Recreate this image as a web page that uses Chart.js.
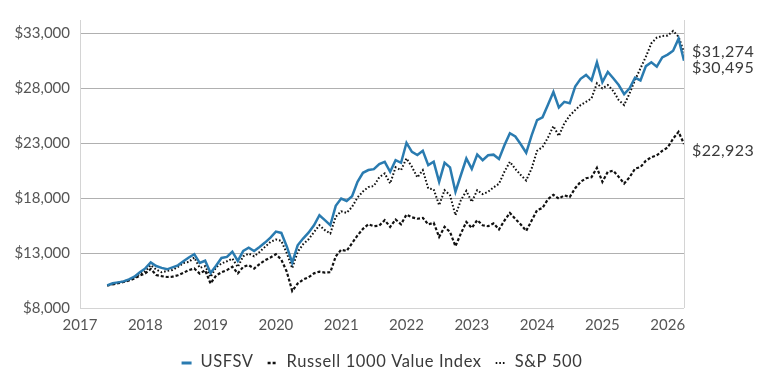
<!DOCTYPE html>
<html><head><meta charset="utf-8">
<script src="https://cdn.jsdelivr.net/npm/chart.js@4.4.1/dist/chart.umd.min.js"></script>
<style>html,body{margin:0;padding:0;background:#fff;}</style>
</head><body>
<canvas id="c" width="764" height="382"></canvas>
<script>
// Monthly month-end values, first point = May 2017
const startYear = 2017, startMonth = 5;
const seriesNames = ['USFSV', 'Russell 1000 Value Index', 'S&P 500'];
const usfsv = [
 10050,10250,10330,10420,10600,10850,11250,11600,12150,11820,
 11650,11520,11700,11880,12250,12600,12900,12100,12300,11190,
 11850,12550,12650,13120,12280,13200,13480,13180,13550,13950,
 14400,14950,14830,13600,12130,13700,14320,14850,15530,16440,
 15990,15530,17290,17960,17740,18170,19480,20300,20550,20630,
 21100,21300,20390,21450,21210,23030,22210,21910,22300,21000,
 21300,19480,21210,20790,18570,20100,21600,20650,21970,21450,
 21900,21950,21550,22800,23900,23600,22900,22120,23700,25100,
 25350,26500,27650,26250,26750,26620,28150,28850,29200,28700,
 30350,28550,29480,28900,28280,27450,27980,28950,28700,30000,
 30350,29950,30800,31050,31400,32500,30495];
const russell = [
 10050,10150,10250,10370,10500,10680,10950,11150,11550,11000,
 10900,10820,10850,10980,11200,11450,11590,11130,11430,10220,
 10950,11250,11450,11750,11150,11750,11900,11590,12000,12340,
 12600,12890,12400,11300,9550,10220,10590,10800,11150,11300,
 11220,11250,12700,13300,13190,13900,14600,15200,15620,15440,
 15500,15990,15380,16050,15620,16500,16250,16120,16200,15600,
 15750,14470,15380,14920,13620,14780,15830,15290,15990,15530,
 15440,15690,15140,15950,16650,16100,15600,15010,15950,16900,
 17100,17900,18300,17950,18250,18100,18900,19480,19800,19900,
 20750,19480,20390,20480,19930,19330,19900,20680,20820,21400,
 21720,21880,22300,22600,23400,24030,22923];
const sp500 = [
 10050,10200,10300,10400,10550,10800,11100,11350,11900,11500,
 11250,11370,11450,11730,12100,12190,12590,11650,11800,10820,
 11700,12050,12250,12500,11730,12710,12950,12710,13100,13560,
 14010,14230,14100,13000,11620,13100,13800,14250,14900,15530,
 15080,14780,16300,16800,16650,17200,18050,18600,19000,19100,
 19900,20240,19330,20800,20540,21610,20840,19880,20540,18870,
 18800,17350,18720,18260,16440,17810,18650,17650,18720,18360,
 18570,18970,19300,20400,21300,20650,20100,19600,20700,22300,
 22650,23500,24550,23650,24790,25500,26000,26460,26760,27070,
 28440,27980,28280,27740,26920,26460,27530,28740,29800,30860,
 32080,32590,32750,32780,33200,32680,31274];
const yTicks = [8000, 13000, 18000, 23000, 28000, 33000];
const xTicks = [2017, 2018, 2019, 2020, 2021, 2022, 2023, 2024, 2025, 2026];
const endLabels = [
 {text: '$31,274', value: 31274},
 {text: '$30,495', value: 30495},
 {text: '$22,923', value: 22923}];

const monthPos = usfsv.map((_, i) => startYear + (startMonth + i) / 12);
const toXY = arr => arr.map((v, i) => ({x: monthPos[i], y: v}));

const FONT = 'Lato, "Open Sans", sans-serif';
const styles = [
  {color: '#2a7bb0', width: 2.5, dash: []},
  {color: '#111111', width: 2.2, dash: [3, 2]},
  {color: '#111111', width: 2, dash: [1.6, 2]}
];

const framePlugin = {
  id: 'frame',
  beforeDatasetsDraw(chart) {
    const {ctx, chartArea: a} = chart;
    ctx.save();
    ctx.strokeStyle = '#d4d4d4';
    ctx.lineWidth = 1;
    ctx.beginPath();
    ctx.moveTo(Math.round(a.left) + 0.5, a.top);
    ctx.lineTo(Math.round(a.left) + 0.5, a.bottom);
    ctx.moveTo(Math.round(a.right) + 0.5, a.top);
    ctx.lineTo(Math.round(a.right) + 0.5, a.bottom);
    ctx.stroke();
    ctx.restore();
  }
};

const endLabelPlugin = {
  id: 'endLabels',
  afterDatasetsDraw(chart) {
    const {ctx, chartArea: a, scales: {y}} = chart;
    const items = endLabels.map(l => ({text: l.text, y: y.getPixelForValue(l.value)}));
    items.sort((p, q) => p.y - q.y);
    for (let i = items.length - 2; i >= 0; i--) {
      if (items[i].y > items[i + 1].y - 16) items[i].y = items[i + 1].y - 16;
    }
    ctx.save();
    ctx.font = '16px ' + FONT;
    if ('letterSpacing' in ctx) ctx.letterSpacing = '0.4px';
    ctx.fillStyle = '#3a3a3a';
    ctx.textBaseline = 'top';
    ctx.textAlign = 'left';
    items.forEach(it => ctx.fillText(it.text, a.right + 8, it.y - 1));
    ctx.restore();
  }
};

const legendPlugin = {
  id: 'customLegend',
  afterDraw(chart) {
    const {ctx} = chart;
    ctx.save();
    ctx.font = '16.5px ' + FONT;
    if ('letterSpacing' in ctx) ctx.letterSpacing = '0.6px';
    const markW = 10, gapT = 9, gapI = 14;
    const widths = seriesNames.map(n => ctx.measureText(n).width);
    const total = widths.reduce((s, w) => s + markW + gapT + w, 0) + gapI * (seriesNames.length - 1);
    let x = (chart.width - total) / 2;
    const yc = 362;
    seriesNames.forEach((n, i) => {
      const s = styles[i];
      ctx.strokeStyle = s.color;
      ctx.lineWidth = i === 0 ? 3 : (i === 1 ? 2.6 : 1.8);
      ctx.setLineDash(s.dash);
      ctx.beginPath();
      ctx.moveTo(x, yc + 1);
      ctx.lineTo(x + markW, yc + 1);
      ctx.stroke();
      ctx.setLineDash([]);
      ctx.fillStyle = '#3a3a3a';
      ctx.textBaseline = 'middle';
      ctx.fillText(n, x + markW + gapT, yc);
      x += markW + gapT + widths[i] + gapI;
    });
    ctx.restore();
  }
};

new Chart(document.getElementById('c'), {
  type: 'line',
  data: {
    datasets: [usfsv, russell, sp500].map((arr, i) => ({
      label: seriesNames[i],
      data: toXY(arr),
      borderColor: styles[i].color,
      borderWidth: styles[i].width,
      borderDash: styles[i].dash,
      pointRadius: 0,
      tension: 0,
      fill: false
    }))
  },
  options: {
    responsive: false,
    animation: false,
    devicePixelRatio: 1,
    layout: {padding: {left: 0, right: 80, top: 20, bottom: 0}},
    plugins: {legend: {display: false}, tooltip: {enabled: false}},
    scales: {
      x: {
        type: 'linear', min: 2017, max: 2026.25,
        afterBuildTicks: s => { s.ticks = xTicks.map(v => ({value: v})); },
        afterFit: s => { s.height = 74; },
        grid: {display: false}, border: {display: false},
        ticks: {callback: v => String(v), maxRotation: 0, autoSkip: false, padding: 0,
                color: '#555555', font: {family: FONT, size: 15}}
      },
      y: {
        min: 8000, max: 34200,
        afterBuildTicks: s => { s.ticks = yTicks.map(v => ({value: v})); },
        afterFit: s => { s.width = 80; },
        border: {display: false},
        grid: {drawTicks: false, lineWidth: 1,
               color: c => (c.tick && c.tick.value === 8000) ? '#d4d4d4' : '#b0b0b0'},
        ticks: {callback: v => '$' + Number(v).toLocaleString('en-US'), padding: 10,
                color: '#555555', font: {family: FONT, size: 15}}
      }
    }
  },
  plugins: [framePlugin, endLabelPlugin, legendPlugin]
});
</script>
</body></html>
